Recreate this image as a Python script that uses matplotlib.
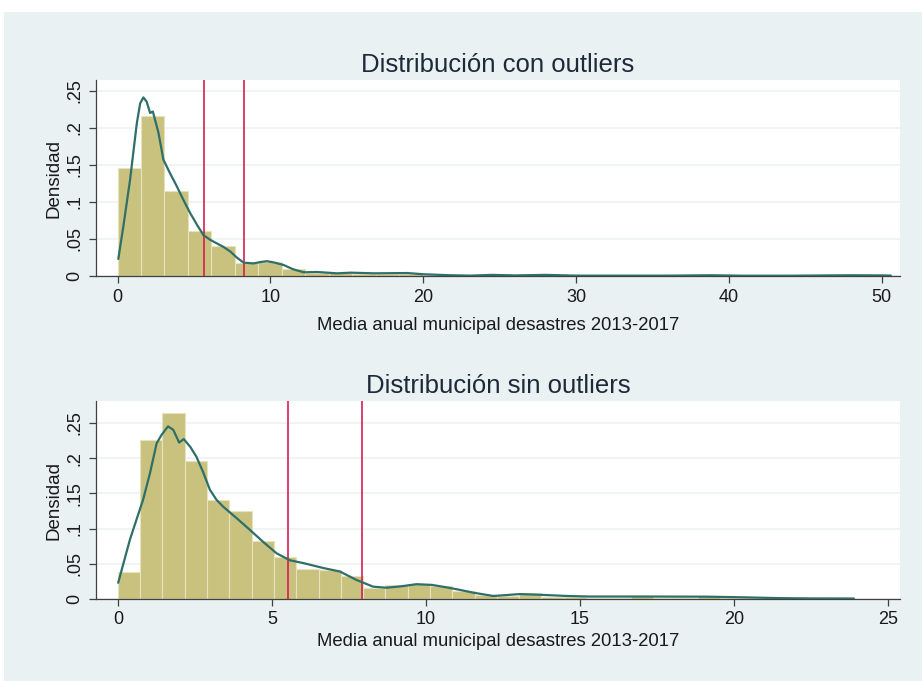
import matplotlib
matplotlib.use("Agg")
import matplotlib.pyplot as plt
from matplotlib.patches import Rectangle

plt.rcParams['font.family'] = ['Liberation Sans', 'DejaVu Sans']

# histogram densities (33 bins starting at 0)
con_bin_width = 1.535
con_heights = [0.146, 0.216, 0.115, 0.061, 0.040, 0.017, 0.019, 0.009,
               0.004, 0.004, 0.003, 0.003, 0.003, 0.002, 0.001, 0.001,
               0.0005, 0.0005, 0.0005, 0.0, 0.0003, 0.0, 0.0, 0.0,
               0.0006, 0.0006, 0.0, 0.0, 0.0, 0.0, 0.0006, 0.0006, 0.0006]

sin_bin_width = 0.724
sin_heights = [0.039, 0.225, 0.264, 0.196, 0.140, 0.125, 0.083, 0.059,
               0.042, 0.041, 0.032, 0.015, 0.020, 0.021, 0.018, 0.011,
               0.005, 0.004, 0.009, 0.003, 0.003, 0.002, 0.002, 0.004,
               0.002, 0.002, 0.004, 0.002, 0.001, 0.003, 0.001, 0.0005, 0.002]

# kernel density estimates
con_kde_x = [0.05, 0.38, 0.82, 1.26, 1.48, 1.69, 1.91, 2.13, 2.31, 2.68, 3.0,
             3.45, 3.88, 4.3, 4.75, 5.2, 5.63, 6.05, 6.5, 6.95, 7.38, 7.8, 8.25,
             8.9, 9.4, 9.78, 10.3, 10.87, 11.5, 12.18, 13.06, 14.37, 15.25,
             16.77, 18.96, 20.05, 21.8, 23.1, 24.5, 26.0, 28.0, 30.0, 33.0,
             36.0, 38.8, 41.0, 44.0, 46.5, 48.0, 50.0, 50.6]
con_kde_y = [0.023, 0.067, 0.130, 0.206, 0.233, 0.241, 0.235, 0.220, 0.222,
             0.193, 0.157, 0.138, 0.121, 0.103, 0.085, 0.069, 0.055, 0.049,
             0.044, 0.039, 0.033, 0.025, 0.018, 0.017, 0.019, 0.020, 0.018,
             0.0148, 0.009, 0.005, 0.0054, 0.0036, 0.0045, 0.0036, 0.004,
             0.0023, 0.001, 0.0005, 0.0015, 0.0008, 0.0015, 0.0005, 0.0005,
             0.0005, 0.001, 0.0004, 0.0004, 0.0008, 0.001, 0.0008, 0.0006]

sin_kde_x = [0.01, 0.39, 0.6, 0.82, 1.04, 1.26, 1.42, 1.63, 1.8, 1.99, 2.14,
             2.35, 2.55, 2.77, 2.99, 3.2, 3.42, 3.85, 4.29, 4.72, 5.15, 5.58,
             6.02, 6.67, 7.21, 7.75, 8.29, 8.72, 9.2, 9.7, 10.2, 10.67, 11.1,
             11.54, 12.19, 12.6, 13.05, 13.7, 14.57, 15.3, 16.97, 19.1, 20.3,
             21.5, 22.5, 23.9]
sin_kde_y = [0.023, 0.084, 0.112, 0.141, 0.178, 0.221, 0.233, 0.245, 0.240,
             0.222, 0.227, 0.216, 0.202, 0.180, 0.155, 0.141, 0.131, 0.115,
             0.098, 0.081, 0.065, 0.055, 0.051, 0.044, 0.039, 0.027, 0.0175,
             0.016, 0.018, 0.021, 0.020, 0.0166, 0.013, 0.009, 0.0043, 0.0055,
             0.007, 0.006, 0.0043, 0.0035, 0.0035, 0.0033, 0.0024, 0.0012,
             0.0008, 0.0007]

# reference lines
con_lines = [5.67, 8.30]
sin_lines = [5.52, 7.92]

yticks = [0, 0.05, 0.1, 0.15, 0.2, 0.25]
ytick_labels = ["0", ".05", ".1", ".15", ".2", ".25"]

panels = [
    ("Distribución con outliers", con_heights, con_bin_width, con_kde_x, con_kde_y,
     con_lines, [0, 10, 20, 30, 40, 50], (-1.41, 51.2), 0.2645, 8,
     [96 / 922, 1 - 276 / 681, 804 / 922, 196 / 681]),
    ("Distribución sin outliers", sin_heights, sin_bin_width, sin_kde_x, sin_kde_y,
     sin_lines, [0, 5, 10, 15, 20, 25], (-0.71, 25.4), 0.281, 3,
     [96 / 922, 1 - 599 / 681, 804 / 922, 198 / 681]),
]

bg = "#e9f1f3"
bar_color = "#c9c27f"
line_color = "#2e6f69"
red = "#d81e50"

fig = plt.figure(figsize=(9.22, 6.81), dpi=100)
fig.patch.set_facecolor("white")
fig.patches.append(Rectangle((4 / 922, 0), 1, 1 - 12 / 681, transform=fig.transFigure,
                             facecolor=bg, edgecolor="none", zorder=-10))

for title, heights, width, kx, ky, lines, xticks, xlim, ytop, xpad, rect in panels:
    ax = fig.add_axes(rect)
    ax.set_facecolor("white")
    lefts = [i * width for i in range(len(heights))]
    ax.bar(lefts, heights, width=width, align="edge", color=bar_color,
           edgecolor="#e6e2bd", linewidth=0.8, zorder=2)
    ax.plot(kx, ky, color=line_color, lw=1.6, zorder=4,
            solid_joinstyle="round", solid_capstyle="round")
    for v in lines:
        ax.axvline(v, color=red, lw=1.2, zorder=3)

    ax.set_xlim(*xlim)
    ax.set_ylim(0, ytop)
    ax.set_xticks(xticks)
    ax.set_yticks(yticks)
    ax.set_yticklabels(ytick_labels, rotation=90, va="center")
    ax.yaxis.grid(True, color="#edf2f4", lw=1.2, zorder=0)
    ax.set_axisbelow(True)

    for s in ["top", "right"]:
        ax.spines[s].set_visible(False)
    for s in ["left", "bottom"]:
        ax.spines[s].set_color("#404040")
        ax.spines[s].set_linewidth(0.9)
    ax.tick_params(direction="out", length=5, width=0.9, color="#404040",
                   labelsize=13, labelcolor="#1a1a1a", pad=4)

    ax.set_title(title, fontsize=18.5, color="#1e2a3a", pad=6)
    ax.set_xlabel("Media anual municipal desastres 2013-2017", fontsize=13.3,
                  color="#1a1a1a", labelpad=xpad)
    ax.set_ylabel("Densidad", fontsize=13.5, color="#1a1a1a", labelpad=3)

fig.savefig("out.png", dpi=100, facecolor=fig.get_facecolor())
